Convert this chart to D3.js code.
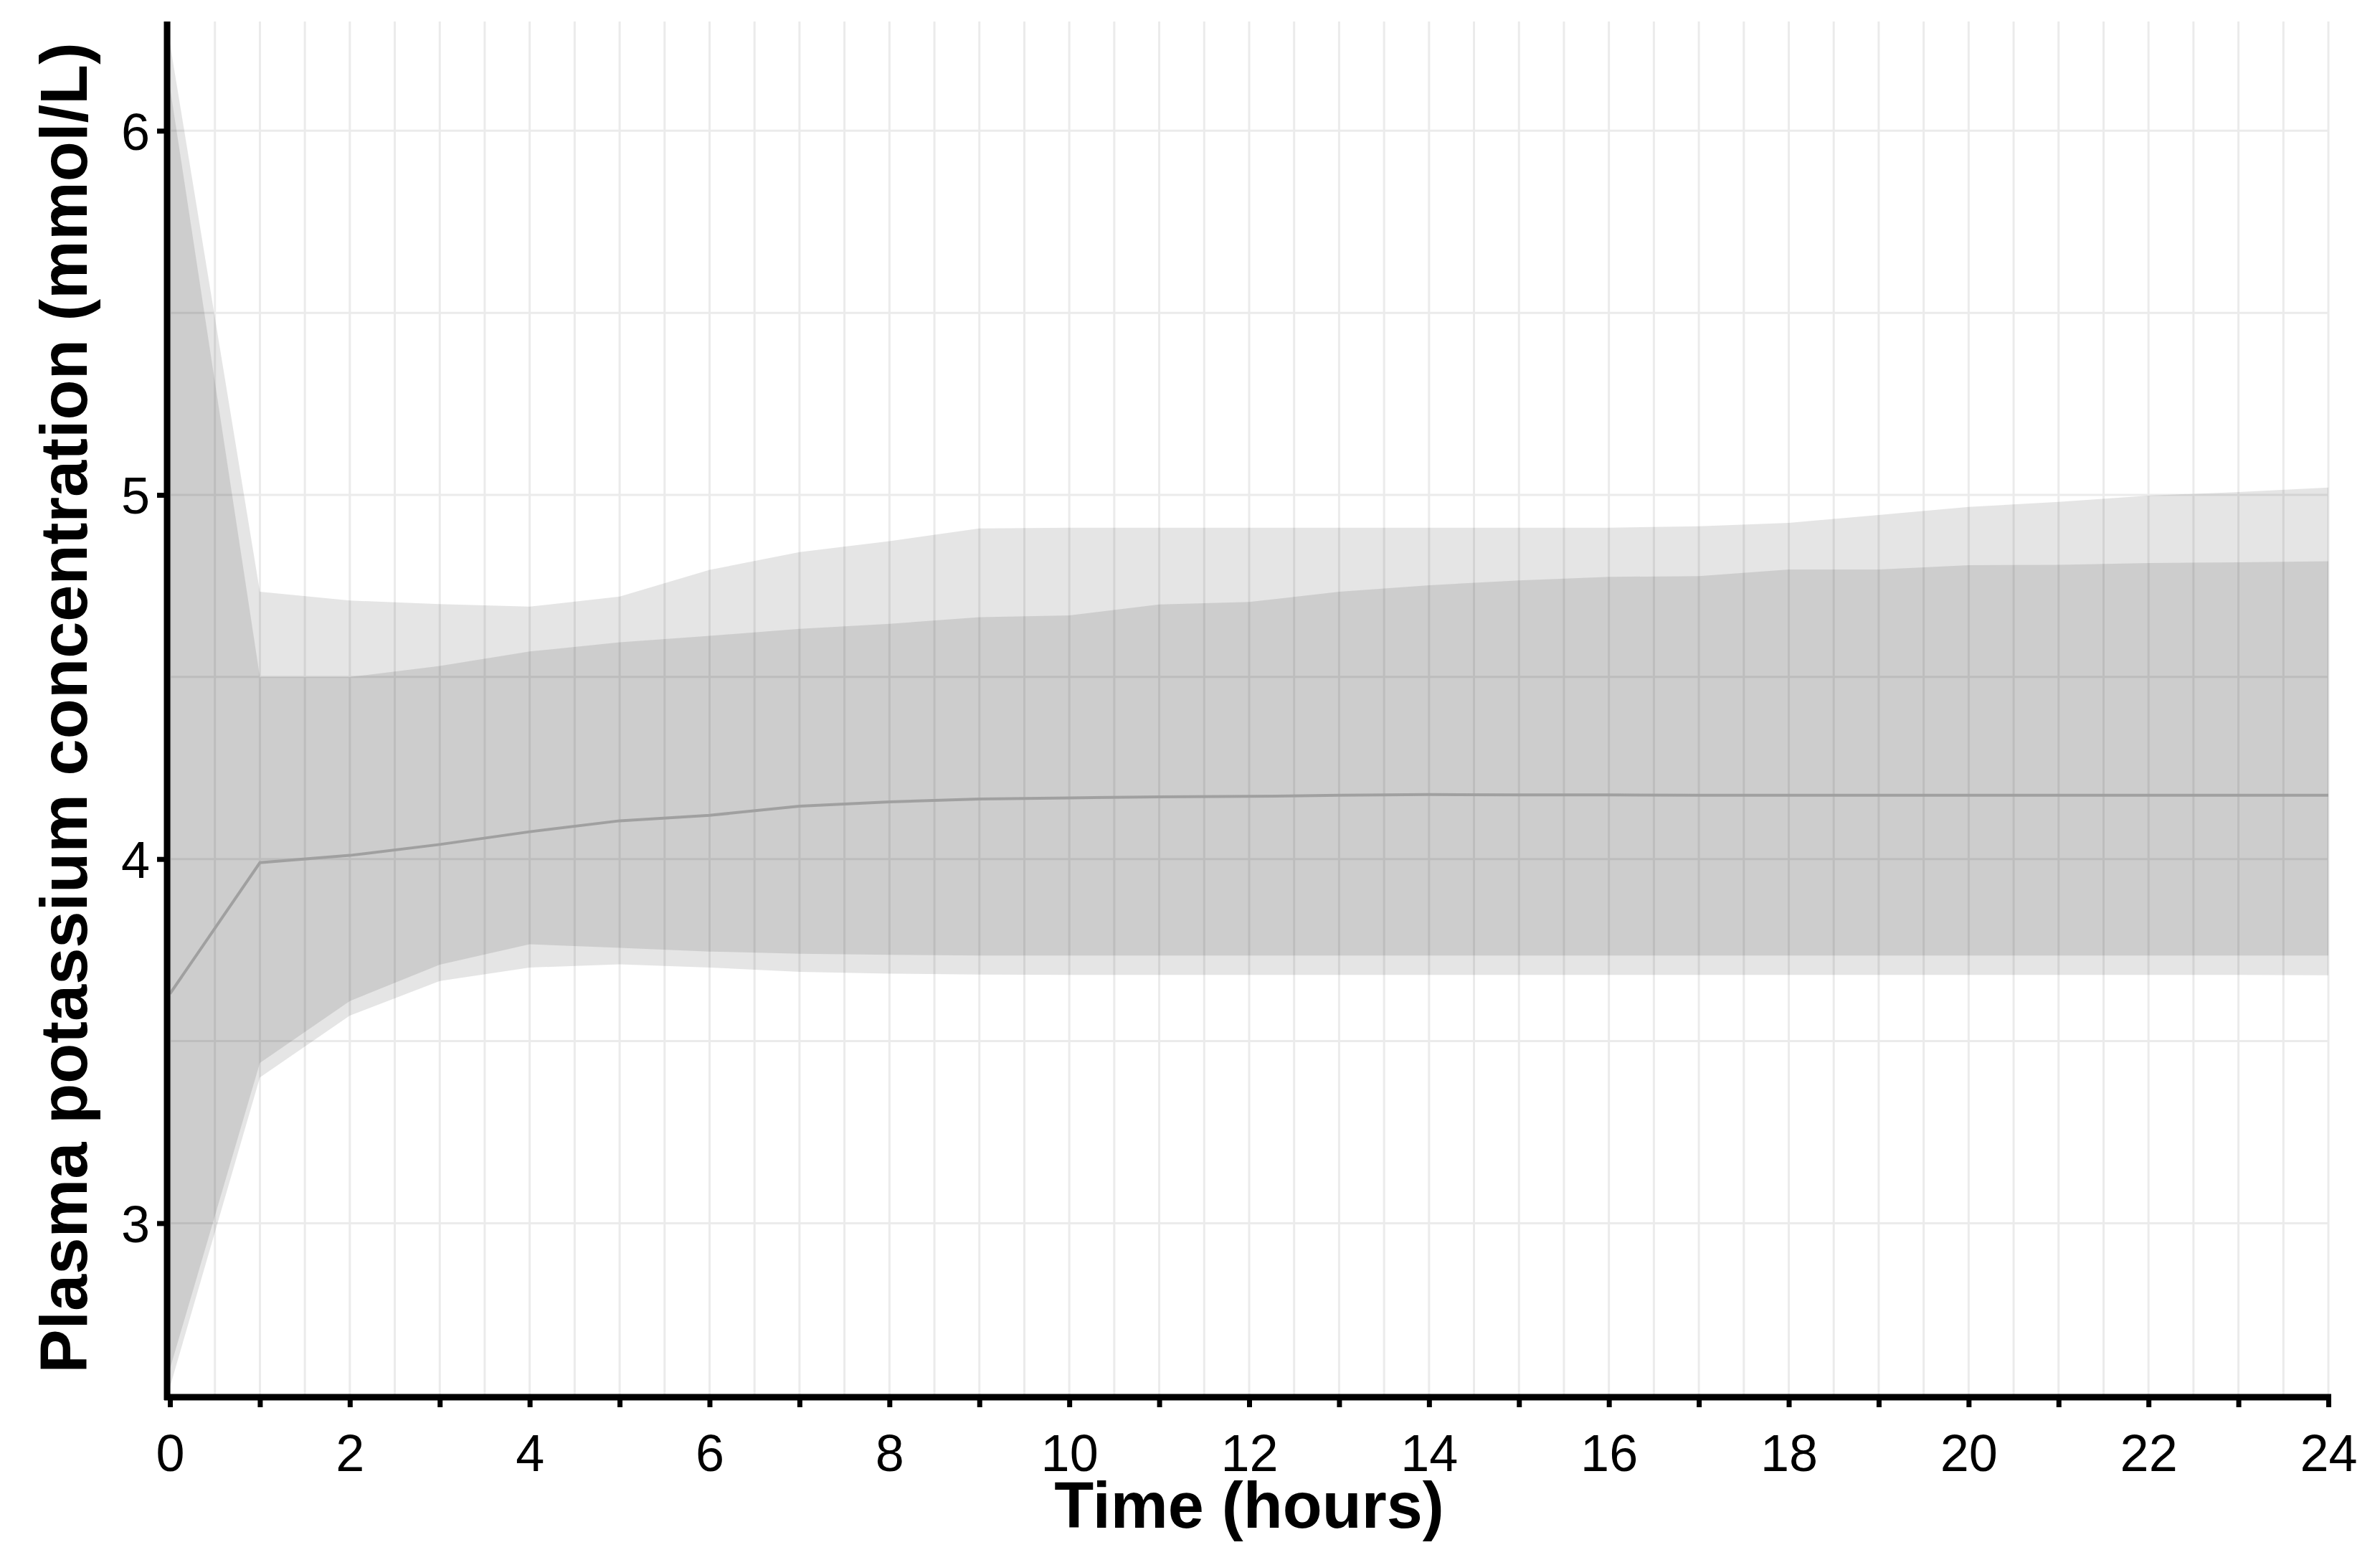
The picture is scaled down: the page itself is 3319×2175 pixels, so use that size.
<!DOCTYPE html>
<html>
<head>
<meta charset="utf-8">
<script src="https://cdn.jsdelivr.net/npm/d3@7"></script>
<style>
  html, body { margin: 0; padding: 0; background: #fff; }
  svg { display: block; }
  text { font-family: "Liberation Sans", Arial, sans-serif; }
</style>
</head>
<body>
<svg id="chart" width="3319" height="2175"></svg>
<script>
// ---- data ----
const hours = [0,1,2,3,4,5,6,7,8,9,10,11,12,13,14,15,16,17,18,19,20,21,22,23,24];
const median = [3.63,3.99,4.01,4.04,4.075,4.105,4.12,4.145,4.157,4.165,4.168,4.171,4.172,4.175,4.177,4.176,4.176,4.175,4.175,4.175,4.175,4.175,4.175,4.175,4.175];
const innerUpper = [6.12,4.50,4.50,4.53,4.57,4.595,4.613,4.632,4.646,4.664,4.669,4.699,4.706,4.734,4.752,4.765,4.775,4.777,4.795,4.795,4.807,4.808,4.813,4.815,4.818];
const innerLower = [2.60,3.44,3.61,3.71,3.766,3.756,3.746,3.74,3.737,3.735,3.735,3.735,3.735,3.735,3.735,3.735,3.735,3.735,3.735,3.735,3.735,3.735,3.735,3.735,3.735];
const outerUpper = [6.24,4.734,4.71,4.70,4.693,4.721,4.794,4.843,4.873,4.908,4.91,4.91,4.91,4.91,4.91,4.91,4.91,4.914,4.923,4.945,4.967,4.981,4.998,5.008,5.02];
const outerLower = [2.55,3.40,3.57,3.665,3.702,3.711,3.702,3.69,3.685,3.683,3.682,3.682,3.682,3.682,3.682,3.682,3.682,3.682,3.682,3.682,3.682,3.682,3.682,3.682,3.681];
const xTickValues = [0,1,2,3,4,5,6,7,8,9,10,11,12,13,14,15,16,17,18,19,20,21,22,23,24];
const xTickLabels = ["0","","2","","4","","6","","8","","10","","12","","14","","16","","18","","20","","22","","24"];
const yTickValues = [3,4,5,6];
const xGridValues = d3.range(0, 24.01, 0.5);
const yGridValues = [3,3.5,4,4.5,5,5.5,6];
const xTitle = "Time (hours)";
const yTitle = "Plasma potassium concentration (mmol/L)";

// ---- layout ----
const L = 237, R = 3247, T = 30, B = 1944;
const svg = d3.select("#chart");
const x = d3.scaleLinear().domain([0, 24]).range([L, R]);
const y = d3.scaleLinear().domain([2.53, 6.30]).range([B, T]);

svg.append("defs").append("clipPath").attr("id", "panel")
  .append("rect").attr("x", L).attr("y", T).attr("width", R - L).attr("height", B - T);

// gridlines
const grid = svg.append("g");
grid.selectAll("line.v").data(xGridValues).join("line")
  .attr("x1", d => x(d)).attr("x2", d => x(d))
  .attr("y1", T).attr("y2", B)
  .attr("stroke", "#ebebeb").attr("stroke-width", 3);
grid.selectAll("line.h").data(yGridValues).join("line")
  .attr("x1", L).attr("x2", R)
  .attr("y1", d => y(d)).attr("y2", d => y(d))
  .attr("stroke", "#ebebeb").attr("stroke-width", 3);

const rows = hours.map((h, i) => ({h, m: median[i], il: innerLower[i], iu: innerUpper[i], ol: outerLower[i], ou: outerUpper[i]}));

const plot = svg.append("g").attr("clip-path", "url(#panel)");
plot.append("path").datum(rows)
  .attr("d", d3.area().x(d => x(d.h)).y0(d => y(d.ol)).y1(d => y(d.ou)))
  .attr("fill", "#000").attr("fill-opacity", 0.1);
plot.append("path").datum(rows)
  .attr("d", d3.area().x(d => x(d.h)).y0(d => y(d.il)).y1(d => y(d.iu)))
  .attr("fill", "#000").attr("fill-opacity", 0.1);
plot.append("path").datum(rows)
  .attr("d", d3.line().x(d => x(d.h)).y(d => y(d.m)))
  .attr("fill", "none").attr("stroke", "#a0a0a0").attr("stroke-width", 4);

// axes
const xAxis = svg.append("g").attr("transform", `translate(0,${B + 4})`)
  .call(d3.axisBottom(x).tickValues(xTickValues).tickFormat((d, i) => xTickLabels[i]).tickSize(14).tickPadding(38));
const yAxis = svg.append("g").attr("transform", `translate(${L - 4},0)`)
  .call(d3.axisLeft(y).tickValues(yTickValues).tickFormat(d3.format("d")).tickSize(14).tickPadding(10));

[xAxis, yAxis].forEach(a => {
  a.select(".domain").attr("stroke", "#000").attr("stroke-width", 9);
  a.selectAll(".tick line").attr("stroke", "#000").attr("stroke-width", 7);
  a.selectAll(".tick text").attr("fill", "#000").attr("font-size", 72)
    .attr("font-family", "'Liberation Sans', Arial, sans-serif");
});
xAxis.select(".domain").attr("d", `M${L - 8},0H${R + 4}`);
yAxis.select(".domain").attr("d", `M0,${B + 8}V${T}`);
yAxis.selectAll(".tick text").attr("dy", "0.36em");

// titles
svg.append("text").attr("x", (L + R) / 2).attr("y", 2130)
  .attr("text-anchor", "middle").attr("font-weight", "bold").attr("font-size", 90)
  .text(xTitle);
svg.append("text").attr("transform", `translate(121,${(T + B) / 2}) rotate(-90)`)
  .attr("text-anchor", "middle").attr("font-weight", "bold").attr("font-size", 92)
  .text(yTitle);
</script>
</body>
</html>
